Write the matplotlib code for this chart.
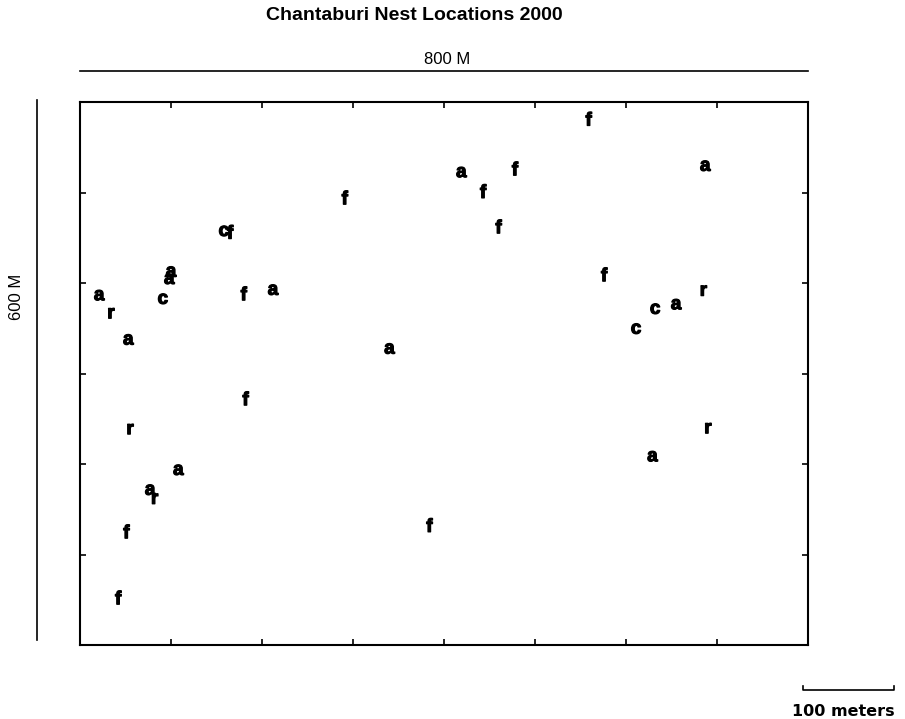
import matplotlib
matplotlib.use("Agg")
import matplotlib.pyplot as plt
import matplotlib.patheffects as pe

# nest locations in meters (x east, y north), with species code letters
nest_codes = ["f", "a", "f", "a", "f", "f", "c", "f", "f", "a", "a", "f",
              "a", "r", "c", "f", "a", "r", "a", "c", "c", "a", "a", "f",
              "r", "r", "a", "a", "a", "r", "f", "f", "f"]
nest_x = [559, 419, 478, 687, 443, 291, 158, 165, 460, 100, 98, 576,
          21, 34, 91, 180, 212, 685, 655, 632, 611, 53, 340, 182,
          55, 690, 629, 108, 77, 82, 51, 384, 42]
nest_y = [579, 522, 524, 529, 499, 492, 457, 454, 460, 412, 404, 407,
          386, 366, 382, 386, 392, 391, 376, 371, 349, 337, 327, 270,
          238, 239, 208, 193, 171, 161, 123, 130, 50]

plot_width = 800
plot_height = 600
tick_step = 100

plt.rcParams["font.family"] = ["Liberation Sans", "DejaVu Sans"]

fig = plt.figure(figsize=(9.05, 7.19), dpi=100)
ax = fig.add_axes([80 / 905, 74 / 719, 728 / 905, 543 / 719])

# letters are a bit heavier in the original, so thicken them with a stroke
heavy = [pe.withStroke(linewidth=0.9, foreground="black")]
for code, x, y in zip(nest_codes, nest_x, nest_y):
    ax.text(x, y, code, fontsize=13.5, fontweight="bold",
            ha="center", va="center", path_effects=heavy)

ax.set_xlim(0, plot_width)
ax.set_ylim(0, plot_height)
ax.set_xticks(range(tick_step, plot_width, tick_step))
ax.set_yticks(range(tick_step, plot_height, tick_step))
ax.tick_params(direction="in", top=True, right=True, length=4,
               width=1.2, labelbottom=False, labelleft=False)
for spine in ax.spines.values():
    spine.set_linewidth(1.5)

# dimension line above the plot
ax.plot([0, plot_width], [634, 634], color="black", lw=1.2, clip_on=False)
ax.text(plot_width / 2 + 3, 647, "800 M", ha="center", va="center",
        fontsize=12)

# dimension line left of the plot
ax.plot([-47, -47], [5, 602], color="black", lw=1.2, clip_on=False)
ax.text(-70, 385, "600 M", ha="center", va="center", rotation=90,
        fontsize=12)

# scale bar
ax.plot([795, 795, 895, 895], [-45, -50, -50, -45], color="black", lw=1.2,
        clip_on=False)
ax.text(839, -74, "100 meters", ha="center", va="center", fontsize=11.5,
        fontweight="bold", family="DejaVu Sans")

fig.text(414 / 905, 1 - 15 / 719, "Chantaburi Nest Locations 2000",
         ha="center", va="center", fontsize=14, fontweight="bold")

fig.savefig("out.png", dpi=100)
